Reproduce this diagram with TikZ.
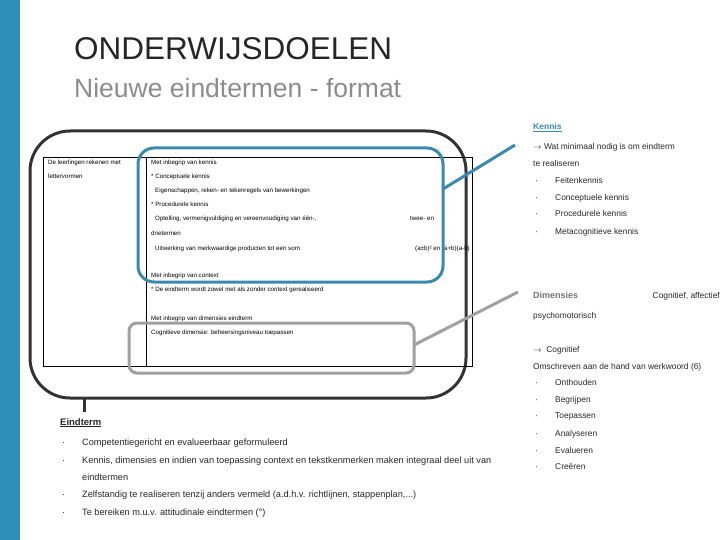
\documentclass[tikz,border=0pt]{standalone}
\usepackage{fontspec}
\setmainfont{Liberation Sans}
\definecolor{bar}{HTML}{2E8FBA}
\definecolor{kblue}{HTML}{3A8AAE}
\definecolor{dgray}{HTML}{333333}
\definecolor{lgray}{HTML}{A0A0A0}
\begin{document}
\begin{tikzpicture}[x=1pt,y=-1pt,
  t/.style={anchor=base west,inner sep=0pt,font=\fontsize{6.2}{7}\selectfont},
  r/.style={anchor=base west,inner sep=0pt,font=\fontsize{8.4}{9}\selectfont,text=black!85},
  e/.style={anchor=base west,inner sep=0pt,font=\fontsize{9.2}{10}\selectfont,text=black!85}]
\useasboundingbox (0,0) rectangle (720,540);
\fill[bar] (0,0) rectangle (20,540);
\node[anchor=base west,inner sep=0pt,font=\fontsize{31.5}{34}\selectfont,text=black!85] (title) at (74,60) {ONDERWIJSDOELEN};
\node[anchor=base west,inner sep=0pt,font=\fontsize{26.5}{28}\selectfont,text=black!45] (sub) at (74,98) {Nieuwe eindtermen - format};
% big frame
\draw[dgray,line width=3pt,rounded corners=40pt] (30,131) rectangle (466,398);
\coordinate (fb) at (84,398);
\coordinate (fe) at (84,412);
\draw[dgray,line width=3pt] (fb) -- (fe);
% table
\draw[line width=0.9pt] (43,157) rectangle (472,366);
\draw[line width=0.9pt] (146,157) -- (146,366);
\node[t] (a1) at (48,165) {De leerlingen rekenen met};
\node[t] (a2) at (48,179) {lettervormen};
\node[t] (b1) at (151,165) {Met inbegrip van kennis};
\node[t] (b2) at (151,179) {* Conceptuele kennis};
\node[t] (b3) at (155,193) {Eigenschappen, reken- en tekenregels van bewerkingen};
\node[t] (b4) at (151,207) {* Procedurele kennis};
\node[t] (b5) at (155,221) {Optelling, vermenigvuldiging en vereenvoudiging van één-,};
\node[t] (b5b) at (410,221) {twee- en};
\node[t] (b6) at (151,236) {drietermen};
\node[t] (b7) at (155,250) {Uitwerking van merkwaardige producten tot een som};
\node[t,anchor=base east] (b7b) at (470,250) {(a±b)² en (a+b)(a-b)};
\node[t] (b8) at (151,277) {Met inbegrip van context};
\node[t] (b9) at (151,291) {* De eindterm wordt zowel met als zonder context gerealiseerd};
\node[t] (b10) at (151,320) {Met inbegrip van dimensies eindterm};
\node[t] (b11) at (151,334) {Cognitieve dimensie: beheersingsniveau toepassen};
% highlight boxes
\draw[kblue,line width=3pt,rounded corners=16pt] (138,148) rectangle (443,282);
\coordinate (k1) at (443,189);
\coordinate (k2) at (515,145);
\draw[kblue,line width=3pt] (k1) -- (k2);
\draw[lgray,line width=3pt,rounded corners=8pt] (129,323) rectangle (414,373);
\coordinate (d1) at (414,345);
\coordinate (d2) at (518,292);
\draw[lgray,line width=3pt] (d1) -- (d2);
% right column
\node[anchor=base west,inner sep=0pt,font=\bfseries\fontsize{8.5}{10}\selectfont,text=kblue] (kn) at (533,130) {\underline{Kennis}};
\node[r] (r1) at (533,150) {$\rightarrow$ Wat minimaal nodig is om eindterm};
\node[r] (r2) at (533,167) {te realiseren};
\foreach \y/\s [count=\i] in {184/Feitenkennis,201/Conceptuele kennis,217/Procedurele kennis,234/Metacognitieve kennis}{
  \node[r] (kd\i) at (535,\y) {·};
  \node[r] (kt\i) at (555,\y) {\s};
}
\node[anchor=base west,inner sep=0pt,font=\bfseries\fontsize{9}{10}\selectfont,text=black!55] (dim) at (533,298) {Dimensies};
\node[r,anchor=base east] (dim2) at (720,298) {Cognitief, affectief};
\node[r] (dim3) at (533,318) {psychomotorisch};
\node[r] (c1) at (533,352) {$\rightarrow$\ \ Cognitief};
\node[r] (c2) at (533,369) {Omschreven aan de hand van werkwoord (6)};
\foreach \y/\s [count=\i] in {385/Onthouden,402/Begrijpen,418/Toepassen,436/Analyseren,453/Evalueren,469/Creëren}{
  \node[r] (cd\i) at (535,\y) {·};
  \node[r] (ct\i) at (555,\y) {\s};
}
% Eindterm
\node[anchor=base west,inner sep=0pt,font=\bfseries\fontsize{9.5}{10}\selectfont,text=black!85] (et) at (60,425) {\underline{Eindterm}};
\foreach \y/\s [count=\i] in {445/Competentiegericht en evalueerbaar geformuleerd,463/{Kennis, dimensies en indien van toepassing context en tekstkenmerken maken integraal deel uit van},497/{Zelfstandig te realiseren tenzij anders vermeld (a.d.h.v. richtlijnen, stappenplan,...)},515/{Te bereiken m.u.v. attitudinale eindtermen (°)}}{
  \node[e] (ed\i) at (62,\y) {·};
  \node[e] (es\i) at (82,\y) {\s};
}
\node[e] (es5) at (82,480) {eindtermen};
\end{tikzpicture}
\end{document}
